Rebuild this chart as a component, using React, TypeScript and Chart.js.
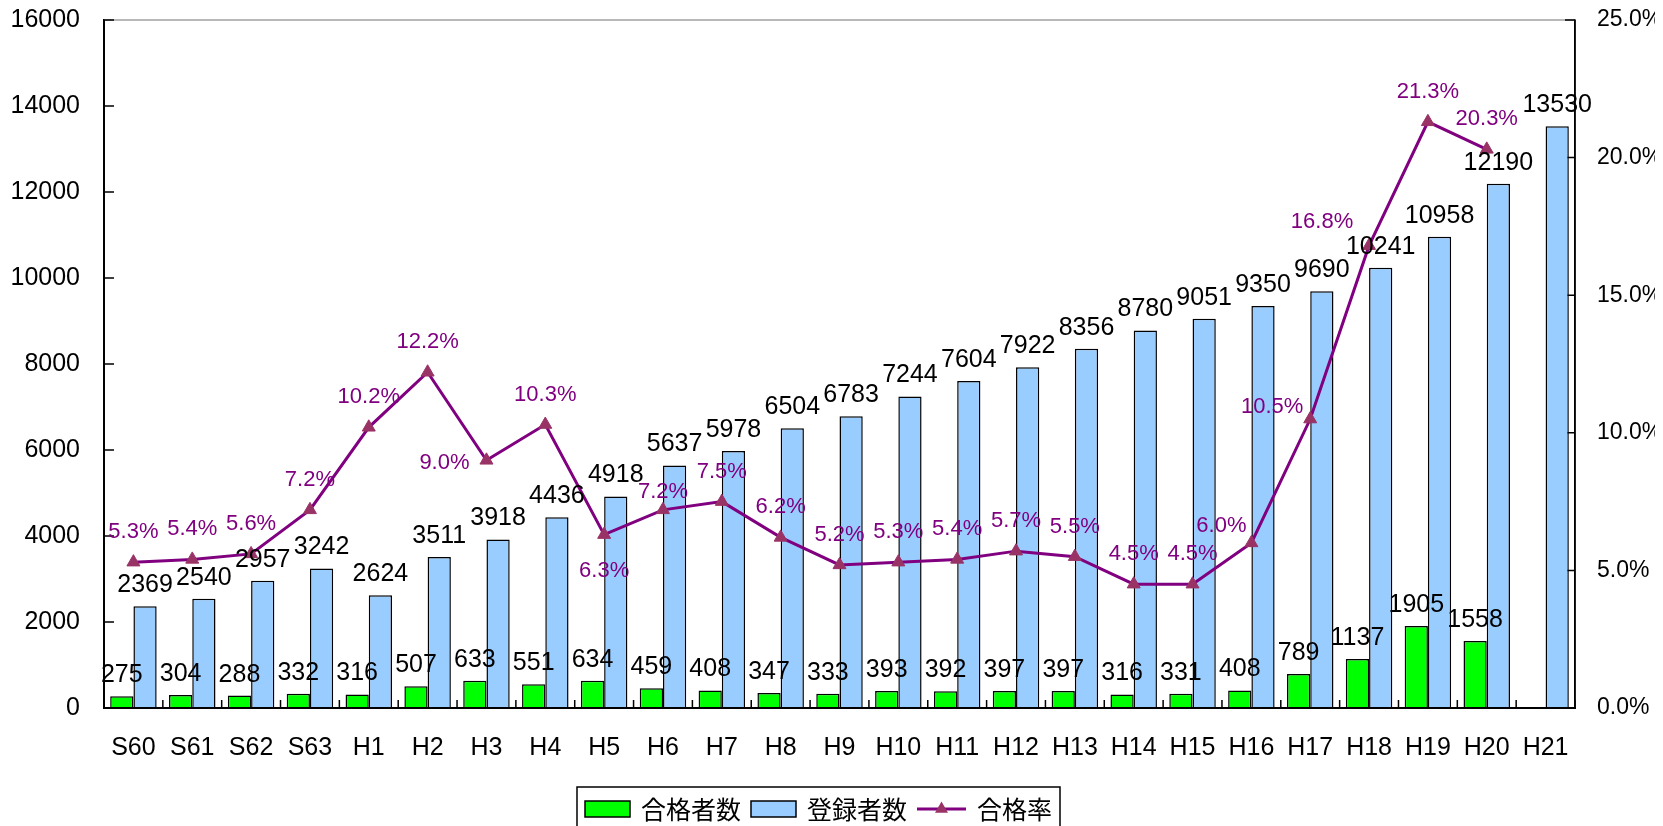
import React, { useEffect, useRef } from "react";
import { Chart, registerables } from "chart.js";

Chart.register(...registerables);

const categories = ["S60", "S61", "S62", "S63", "H1", "H2", "H3", "H4", "H5", "H6", "H7", "H8", "H9", "H10", "H11", "H12", "H13", "H14", "H15", "H16", "H17", "H18", "H19", "H20", "H21"];
const passers: (number | null)[] = [275, 304, 288, 332, 316, 507, 633, 551, 634, 459, 408, 347, 333, 393, 392, 397, 397, 316, 331, 408, 789, 1137, 1905, 1558, null];
const registrants: number[] = [2369, 2540, 2957, 3242, 2624, 3511, 3918, 4436, 4918, 5637, 5978, 6504, 6783, 7244, 7604, 7922, 8356, 8780, 9051, 9350, 9690, 10241, 10958, 12190, 13530];
const passRate: (number | null)[] = [5.3, 5.4, 5.6, 7.2, 10.2, 12.2, 9.0, 10.3, 6.3, 7.2, 7.5, 6.2, 5.2, 5.3, 5.4, 5.7, 5.5, 4.5, 4.5, 6.0, 10.5, 16.8, 21.3, 20.3, null];
const seriesNames = ["合格者数", "登録者数", "合格率"];

// label placement tweaks for the rate labels (dx, dy from point)
const rateLabelOffsets: Record<number, [number, number]> = {
  6: [-42, 3],
  8: [0, 36],
  9: [0, -18],
  19: [-30, -17],
  20: [-38, -12],
  21: [-47, -24],
};

const FONT = '"Liberation Sans", Arial, sans-serif';
const PURPLE = "#800080";
const MARKER = "#993366";

const decorPlugin = {
  id: "decor",
  beforeDatasetsDraw(chart: any) {
    const { ctx, chartArea } = chart;
    const { x, y, y1 } = chart.scales;
    ctx.save();
    ctx.strokeStyle = "#a0a0a0";
    ctx.lineWidth = 1.5;
    ctx.beginPath();
    ctx.moveTo(chartArea.left, chartArea.top);
    ctx.lineTo(chartArea.right, chartArea.top);
    ctx.stroke();
    ctx.strokeStyle = "#000";
    ctx.lineWidth = 1.5;
    ctx.beginPath();
    y.ticks.forEach((t: any) => {
      const py = y.getPixelForValue(t.value);
      ctx.moveTo(chartArea.left, py);
      ctx.lineTo(chartArea.left + 10, py);
    });
    y1.ticks.forEach((t: any) => {
      const py = y1.getPixelForValue(t.value);
      ctx.moveTo(chartArea.right, py);
      ctx.lineTo(chartArea.right - 10, py);
    });
    const w = x.getPixelForValue(1) - x.getPixelForValue(0);
    for (let i = 1; i <= categories.length; i++) {
      const px = x.getPixelForValue(i) - w / 2;
      ctx.moveTo(px, chartArea.bottom);
      ctx.lineTo(px, chartArea.bottom - 8);
    }
    ctx.stroke();
    ctx.restore();
  },
  afterDatasetsDraw(chart: any) {
    const { ctx, chartArea } = chart;
    ctx.save();
    // axis lines on top of the bars
    ctx.strokeStyle = "#000";
    ctx.lineWidth = 2;
    ctx.beginPath();
    ctx.moveTo(chartArea.left, chartArea.top);
    ctx.lineTo(chartArea.left, chartArea.bottom);
    ctx.lineTo(chartArea.right, chartArea.bottom);
    ctx.stroke();
    ctx.lineWidth = 1.5;
    ctx.beginPath();
    ctx.moveTo(chartArea.right, chartArea.top);
    ctx.lineTo(chartArea.right, chartArea.bottom);
    ctx.stroke();

    ctx.textAlign = "center";
    ctx.textBaseline = "middle";
    chart.data.datasets.forEach((ds: any, di: number) => {
      const meta = chart.getDatasetMeta(di);
      meta.data.forEach((el: any, i: number) => {
        const v = ds.data[i];
        if (v == null) return;
        if (ds.type === "line") {
          const off = rateLabelOffsets[i] || [0, -30];
          ctx.font = `22px ${FONT}`;
          ctx.fillStyle = PURPLE;
          ctx.fillText(v.toFixed(1) + "%", el.x + off[0], el.y + off[1]);
        } else {
          ctx.font = `25px ${FONT}`;
          ctx.fillStyle = "#000";
          ctx.fillText(String(v), el.x, el.y - 21);
        }
      });
    });
    ctx.restore();
  },
  afterDraw(chart: any) {
    const ctx = chart.ctx;
    const datasets = chart.data.datasets;
    ctx.save();
    ctx.font = `25px "Noto Sans CJK JP", sans-serif`;
    const sw = 45, gapText = 11, gapItem = 10, pad = 8;
    const widths = datasets.map((d: any) => ctx.measureText(d.label).width);
    let total = pad * 2;
    datasets.forEach((d: any, i: number) => {
      total += (d.type === "line" ? 49 : sw) + gapText + widths[i];
      if (i < datasets.length - 1) total += gapItem;
    });
    const cx = chart.width / 2 - 13;
    const left = cx - total / 2;
    const top = 779;
    const cy = 801;
    ctx.strokeStyle = "#000";
    ctx.lineWidth = 1.5;
    ctx.strokeRect(left, top, total, 60);
    let px = left + pad;
    datasets.forEach((d: any, i: number) => {
      if (d.type === "line") {
        ctx.strokeStyle = d.borderColor;
        ctx.lineWidth = 3;
        ctx.beginPath();
        ctx.moveTo(px, cy);
        ctx.lineTo(px + 49, cy);
        ctx.stroke();
        const r = 7.5;
        const mx = px + 24.5;
        ctx.fillStyle = MARKER;
        ctx.beginPath();
        ctx.moveTo(mx, cy - r);
        ctx.lineTo(mx + r * 0.866, cy + r * 0.5);
        ctx.lineTo(mx - r * 0.866, cy + r * 0.5);
        ctx.closePath();
        ctx.fill();
        px += 49;
      } else {
        ctx.fillStyle = d.backgroundColor;
        ctx.fillRect(px, cy - 8, sw, 16);
        ctx.strokeStyle = "#000";
        ctx.lineWidth = 1.5;
        ctx.strokeRect(px, cy - 8, sw, 16);
        px += sw;
      }
      px += gapText;
      ctx.fillStyle = "#000";
      ctx.textAlign = "left";
      ctx.textBaseline = "middle";
      ctx.fillText(d.label, px, cy);
      px += widths[i] + gapItem;
    });
    ctx.restore();
  },
};

const barBorder = (c: any) => (c.raw == null ? 0 : 1.5);

export default function App() {
  const ref = useRef<HTMLCanvasElement | null>(null);
  useEffect(() => {
    if (!ref.current) return;
    const chart = new Chart(ref.current, {
      type: "bar",
      data: {
        labels: categories,
        datasets: [
          {
            type: "bar",
            label: seriesNames[0],
            data: passers,
            backgroundColor: "#00ff00",
            borderColor: "#000",
            borderWidth: barBorder,
            yAxisID: "y",
            order: 2,
            categoryPercentage: 0.79,
            barPercentage: 1,
          } as any,
          {
            type: "bar",
            label: seriesNames[1],
            data: registrants,
            backgroundColor: "#99ccff",
            borderColor: "#000",
            borderWidth: barBorder,
            yAxisID: "y",
            order: 3,
            categoryPercentage: 0.79,
            barPercentage: 1,
          } as any,
          {
            type: "line",
            label: seriesNames[2],
            data: passRate,
            borderColor: PURPLE,
            borderWidth: 3,
            pointStyle: "triangle",
            pointRadius: 7.5,
            pointBackgroundColor: MARKER,
            pointBorderColor: MARKER,
            pointBorderWidth: 1,
            yAxisID: "y1",
            order: 1,
            tension: 0,
            spanGaps: false,
          } as any,
        ],
      },
      options: {
        responsive: false,
        animation: false,
        layout: { padding: { top: 12, left: 0, right: 0, bottom: 0 } },
        plugins: {
          legend: { display: false },
          tooltip: { enabled: false },
          title: { display: false },
        },
        scales: {
          x: {
            offset: true,
            grid: { display: false, drawTicks: false },
            border: { display: true, color: "#000", width: 2 },
            ticks: {
              color: "#000",
              font: { family: FONT, size: 25 },
              padding: 25,
              maxRotation: 0,
              autoSkip: false,
            },
            afterFit: (s: any) => {
              s.height = 118;
              s.paddingLeft = 0;
              s.paddingRight = 0;
            },
          },
          y: {
            position: "left",
            min: 0,
            max: 16000,
            grid: { display: false, drawTicks: false },
            border: { display: true, color: "#000", width: 2 },
            ticks: {
              stepSize: 2000,
              color: "#000",
              font: { family: FONT, size: 25, lineHeight: 1 },
              padding: 24,
              callback: (v: any) => String(v),
            },
            afterFit: (s: any) => {
              s.width = 96;
              s.paddingTop = 12;
              s.paddingBottom = 0;
            },
          },
          y1: {
            position: "right",
            min: 0,
            max: 25,
            grid: { display: false, drawTicks: false },
            border: { display: true, color: "#000", width: 1.5 },
            ticks: {
              stepSize: 5,
              color: "#000",
              font: { family: FONT, size: 23, lineHeight: 1 },
              padding: 22,
              callback: (v: any) => Number(v).toFixed(1) + "%",
            },
            afterFit: (s: any) => {
              s.width = 80;
              s.paddingTop = 12;
              s.paddingBottom = 0;
            },
          },
        },
      },
      plugins: [decorPlugin],
    });
    return () => chart.destroy();
  }, []);
  return (
    <div style={{ width: 1647, height: 818 }}>
      <canvas ref={ref} width={1647} height={818} style={{ display: "block" }} />
    </div>
  );
}
